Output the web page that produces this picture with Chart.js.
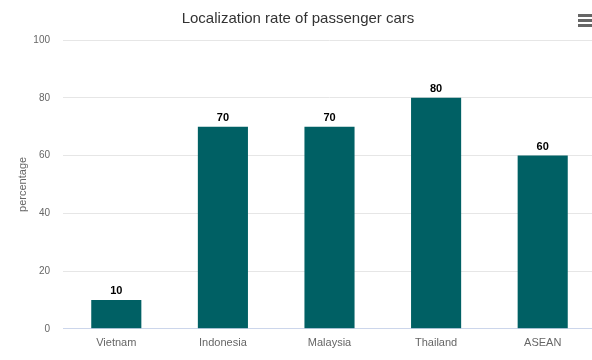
<!DOCTYPE html>
<html>
<head>
<meta charset="utf-8">
<script src="https://cdn.jsdelivr.net/npm/chart.js@4/dist/chart.umd.min.js"></script>
<style>
    html, body { margin: 0; padding: 0; background: #fff; overflow: hidden; }
    #wrap { position: relative; width: 596px; height: 360px; }
    #menu { position: absolute; left: 578px; top: 14px; width: 14px; }
    #menu div { height: 3px; background: #666; margin-bottom: 2px; }
</style>
</head>
<body>
<div id="wrap">
    <canvas id="chart" width="596" height="360"></canvas>
    <div id="menu"><div></div><div></div><div></div></div>
</div>
<script>
// --- Daten ---
const categories = ["Vietnam", "Indonesia", "Malaysia", "Thailand", "ASEAN"];
const localizationRate = [10, 70, 70, 80, 60];
const yTicks = [0, 20, 40, 60, 80, 100];

// Werte über den Balken
const valueLabels = {
    id: "valueLabels",
    afterDatasetsDraw(chart) {
        const ctx = chart.ctx;
        const meta = chart.getDatasetMeta(0);
        ctx.save();
        ctx.font = "bold 11px 'Liberation Sans', Arial, sans-serif";
        ctx.fillStyle = "#000";
        ctx.textAlign = "center";
        ctx.textBaseline = "bottom";
        meta.data.forEach((bar, i) => {
            ctx.fillText(localizationRate[i], bar.x, bar.y - 3);
        });
        ctx.restore();
    }
};

const ctx = document.getElementById("chart").getContext("2d");
const chart = new Chart(ctx, {
    type: "bar",
    data: {
        labels: categories,
        datasets: [{
            label: "percentage",
            data: localizationRate,
            backgroundColor: "#006064",
            borderWidth: 0,
            barPercentage: 0.47,
            categoryPercentage: 1
        }]
    },
    options: {
        responsive: false,
        animation: false,
        layout: { padding: { left: 0, right: 0, top: 0, bottom: 2 } },
        plugins: {
            legend: { display: false },
            tooltip: { enabled: false },
            title: {
                display: true,
                text: "Localization rate of passenger cars",
                color: "#333",
                font: { family: "'Liberation Sans', Arial, sans-serif", size: 15, weight: "normal" },
                padding: { top: 10, bottom: 12 }
            }
        },
        scales: {
            x: {
                grid: { display: false, drawTicks: false },
                border: { color: "#ccd6eb", width: 1 },
                ticks: {
                    color: "#666",
                    padding: 8,
                    font: { family: "'Liberation Sans', Arial, sans-serif", size: 11 }
                }
            },
            y: {
                min: 0,
                max: 100,
                afterBuildTicks: (axis) => {
                    axis.ticks = yTicks.map(v => ({ value: v }));
                },
                afterFit: (axis) => { axis.width = 63; },
                grid: { color: "#e6e6e6", drawTicks: false },
                border: { display: false },
                title: {
                    display: true,
                    text: "percentage",
                    color: "#666",
                    font: { family: "'Liberation Sans', Arial, sans-serif", size: 11 },
                    padding: { top: 16, bottom: 0 }
                },
                ticks: {
                    color: "#666",
                    padding: 13,
                    font: { family: "'Liberation Sans', Arial, sans-serif", size: 10 }
                }
            }
        }
    },
    plugins: [valueLabels]
});
</script>
</body>
</html>
